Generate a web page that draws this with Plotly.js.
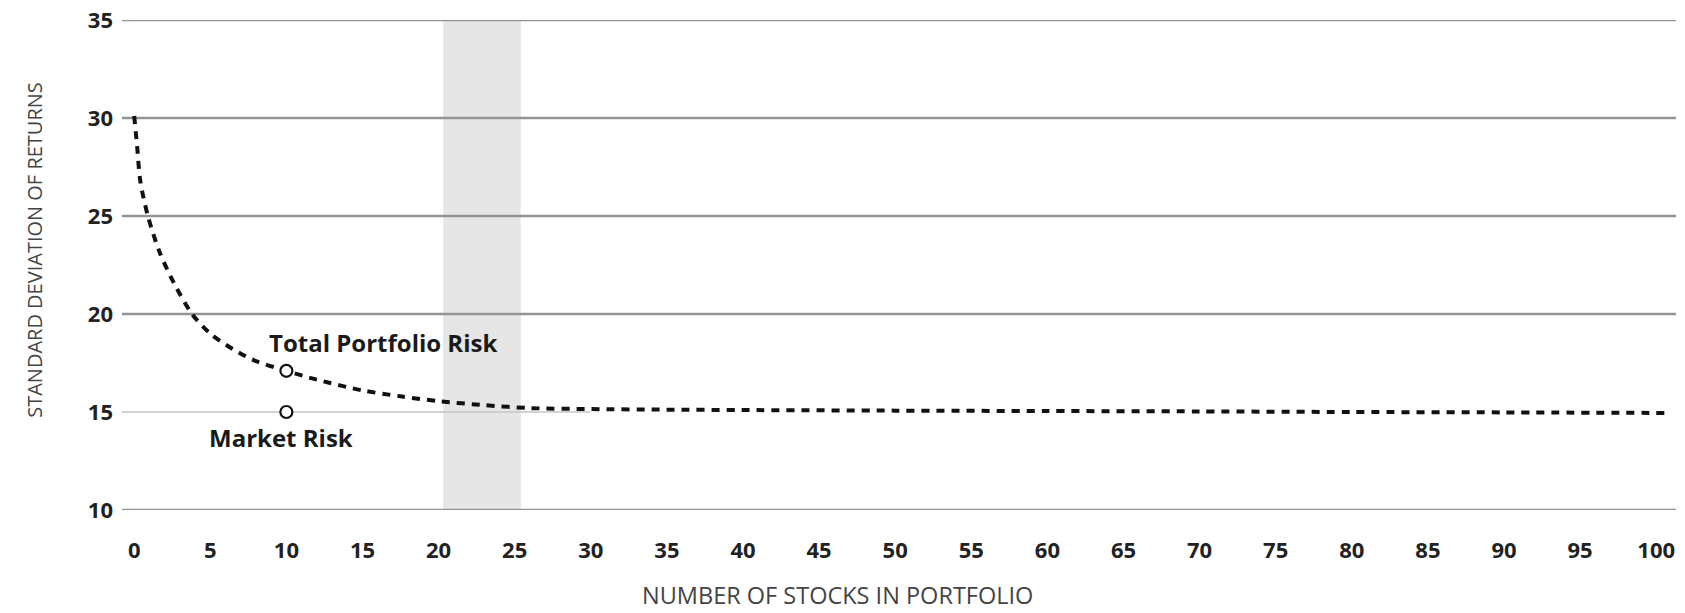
<!DOCTYPE html>
<html>
<head>
<meta charset="utf-8">
<script src="https://cdn.plot.ly/plotly-3.0.1.min.js"></script>
<style>html,body{margin:0;padding:0;background:#fff;}#chart{width:1685px;height:613px;}</style>
</head>
<body>
<div id="chart"></div>
<script>
// Total portfolio risk curve (number of stocks vs std. dev. of returns)
var stocks = [0, 0.2, 0.4, 0.9, 1.7, 2.6, 3.8, 5, 6.5, 8, 10, 12, 15, 17.5, 20, 23, 26, 30, 35, 40, 50, 60, 70, 80, 90, 101];
var stdDev = [30.1, 28.5, 26.8, 25, 23.1, 21.6, 20, 19.0, 18.2, 17.6, 17.1, 16.65, 16.1, 15.8, 15.55, 15.35, 15.2, 15.15, 15.12, 15.1, 15.07, 15.05, 15.03, 15.0, 14.98, 14.95];
// Labelled points
var pointX = [10, 10];
var pointY = [17.1, 15];
var pointLabels = ['Total Portfolio Risk', 'Market Risk'];
// Shaded range
var bandRange = [20.3, 25.4];
// Axes
var xTicks = [0,5,10,15,20,25,30,35,40,45,50,55,60,65,70,75,80,85,90,95,100];
var yTicks = [10, 15, 20, 25, 30, 35];
var marketRiskLineEnd = 30;

var lineFont = 'Open Sans, Noto Sans, sans-serif';

var shapes = [{
  type: 'rect', xref: 'x', yref: 'paper', x0: bandRange[0], x1: bandRange[1], y0: 0, y1: 1,
  fillcolor: '#e6e6e6', line: {width: 0}, layer: 'below'
}];
yTicks.forEach(function (v) {
  if (v === 15) {
    shapes.push({type: 'line', xref: 'x', yref: 'y', x0: -0.8, x1: marketRiskLineEnd, y0: v, y1: v,
      line: {color: '#c4c4c4', width: 1.6}, layer: 'below'});
  } else {
    shapes.push({type: 'line', xref: 'paper', yref: 'y', x0: 0, x1: 1, y0: v, y1: v,
      line: {color: '#939393', width: 2.4}, layer: 'below'});
  }
});

var traces = [
  {x: stocks, y: stdDev, mode: 'lines', type: 'scatter',
   line: {color: '#111', width: 4, dash: '8px,7px', shape: 'spline', smoothing: 0.8},
   hoverinfo: 'skip', showlegend: false},
  {x: pointX, y: pointY, mode: 'markers', type: 'scatter',
   marker: {symbol: 'circle', size: 12, color: '#fff', line: {color: '#111', width: 2.2}},
   showlegend: false}
];

var shifts = [[97, 28], [-5, -25]];
var annotations = pointLabels.map(function (t, i) {
  return {x: pointX[i], y: pointY[i], xref: 'x', yref: 'y', text: t, showarrow: false,
    xshift: shifts[i][0], yshift: shifts[i][1], xanchor: 'center', yanchor: 'middle',
    font: {family: lineFont, size: 24, color: '#1a1a1a', weight: 700}};
});
annotations.push({xref: 'paper', yref: 'paper', x: 0.4607, y: -0.1735, xanchor: 'center', yanchor: 'middle',
  text: 'NUMBER OF STOCKS IN PORTFOLIO', showarrow: false, borderpad: 0,
  font: {family: lineFont, size: 23.5, color: '#444'}});
annotations.push({xref: 'paper', yref: 'paper', x: -0.056, y: 0.531, xanchor: 'center', yanchor: 'middle',
  text: 'STANDARD DEVIATION OF RETURNS', textangle: -90, showarrow: false,
  font: {family: lineFont, size: 20, color: '#444'}});

var layout = {
  width: 1685, height: 613,
  margin: {l: 122, r: 9, t: 20, b: 103},
  paper_bgcolor: '#fff', plot_bgcolor: 'rgba(0,0,0,0)',
  xaxis: {range: [-0.8, 101.3], tickvals: xTicks, ticktext: xTicks.map(String),
    showgrid: false, zeroline: false, showline: false, ticks: '', ticklabelstandoff: 25,
    tickfont: {family: lineFont, size: 22, color: '#222', weight: 700}, fixedrange: true},
  yaxis: {range: [10, 35], tickvals: yTicks, ticktext: yTicks.map(String),
    showgrid: false, zeroline: false, showline: false, ticks: '', ticklabelstandoff: 8,
    tickfont: {family: lineFont, size: 22, color: '#222', weight: 700}, fixedrange: true},
  shapes: shapes,
  annotations: annotations
};

Plotly.newPlot('chart', traces, layout, {displayModeBar: false, staticPlot: true});
</script>
</body>
</html>
